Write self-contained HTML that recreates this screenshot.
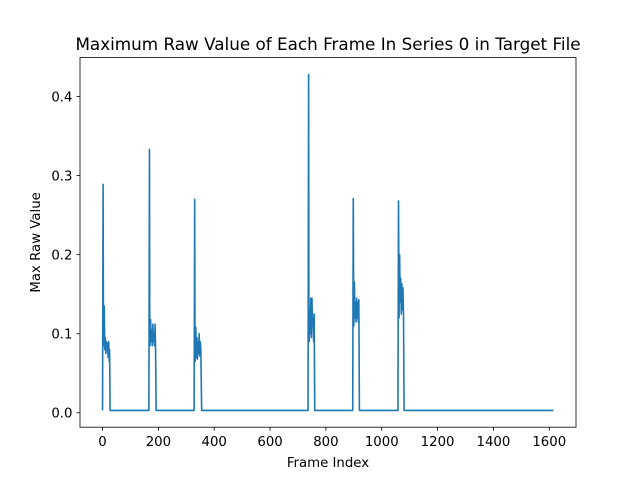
<!DOCTYPE html>
<html><head><meta charset="utf-8"><style>
html,body{margin:0;padding:0;background:#fff;}
svg{display:block;font-family:"DejaVu Sans","Liberation Sans",sans-serif;}
</style></head><body>
<svg id="chart" width="640" height="480" viewBox="0 0 640 480" xmlns="http://www.w3.org/2000/svg">
<rect width="640" height="480" fill="#fff"/>
<text x="328" y="50" font-size="16.8" text-anchor="middle">Maximum Raw Value of Each Frame In Series 0 in Target File</text>
<g id="xticks"></g>
<g id="yticks"></g>
<path id="series" fill="none" stroke="#1f77b4" stroke-width="1.6" stroke-linejoin="round"/>
<rect x="80" y="57.6" width="496" height="369.6" fill="none" stroke="#000" stroke-width="0.8"/>
<text x="328" y="467" font-size="13.3" text-anchor="middle">Frame Index</text>
<text transform="translate(40,242.4) rotate(-90)" font-size="13.3" text-anchor="middle">Max Raw Value</text>
</svg>
<script>
const frames = [0,2,3,4,6,8,10,12,14,16,18,20,22,24,25,26,27,28,
  166,168,169,170,172,174,176,178,180,182,184,186,188,190,192,
  328,330,331,332,334,336,338,340,342,344,346,348,350,352,355,
  736,738,739,740,742,744,746,748,750,752,754,756,758,760,
  896,898,899,900,902,904,906,908,910,912,914,916,918,920,
  1058,1060,1061,1062,1064,1066,1068,1070,1072,1074,1076,1078,1080,
  1615];
const values = [0.003,0.289,0.14,0.085,0.135,0.08,0.095,0.075,0.09,0.08,0.088,0.07,0.09,0.065,0.08,0.055,0.003,0.003,
  0.003,0.333,0.12,0.085,0.118,0.09,0.105,0.085,0.112,0.09,0.1,0.085,0.112,0.08,0.003,
  0.003,0.27,0.1,0.065,0.108,0.07,0.095,0.068,0.09,0.075,0.1,0.072,0.09,0.08,0.003,
  0.003,0.428,0.15,0.09,0.12,0.1,0.145,0.095,0.145,0.11,0.12,0.09,0.125,0.003,
  0.003,0.271,0.17,0.11,0.165,0.12,0.14,0.115,0.145,0.12,0.14,0.115,0.143,0.003,
  0.003,0.268,0.2,0.12,0.2,0.14,0.17,0.125,0.163,0.13,0.158,0.12,0.003,
  0.003];
const xTickVals = [0,200,400,600,800,1000,1200,1400,1600];
const yTickVals = [0.0,0.1,0.2,0.3,0.4];
const yTickLabels = ["0.0","0.1","0.2","0.3","0.4"];

const xmin=-80.75,xmax=1695.75,ymin=-0.01825,ymax=0.44925;
function X(v){return 80+(v-xmin)/(xmax-xmin)*496;}
function Y(v){return 427.2-(v-ymin)/(ymax-ymin)*369.6;}
const NS="http://www.w3.org/2000/svg";
let d="";
for(let i=0;i<frames.length;i++){d+=(i?"L":"M")+X(frames[i]).toFixed(2)+","+Y(values[i]).toFixed(2);}
document.getElementById("series").setAttribute("d",d);
const xg=document.getElementById("xticks");
xTickVals.forEach(v=>{
  const l=document.createElementNS(NS,"line");
  
  
  l.setAttribute("x1",X(v));l.setAttribute("x2",X(v));l.setAttribute("y1",427.2);l.setAttribute("y2",430.7);
  l.setAttribute("stroke","#000");l.setAttribute("stroke-width","0.8");xg.appendChild(l);
  const t=document.createElementNS(NS,"text");
  
  
  t.setAttribute("x",X(v));t.setAttribute("y",446);t.setAttribute("font-size","13.3");t.setAttribute("text-anchor","middle");
  t.textContent=String(v);xg.appendChild(t);
});
const yg=document.getElementById("yticks");
yTickVals.forEach((v,i)=>{
  const l=document.createElementNS(NS,"line");
  
  
  l.setAttribute("x1",76.5);l.setAttribute("x2",80);l.setAttribute("y1",Y(v));l.setAttribute("y2",Y(v));
  l.setAttribute("stroke","#000");l.setAttribute("stroke-width","0.8");yg.appendChild(l);
  const t=document.createElementNS(NS,"text");
  
  
  t.setAttribute("x",72.5);t.setAttribute("y",Y(v)+4.8);t.setAttribute("font-size","13.3");t.setAttribute("text-anchor","end");
  t.textContent=yTickLabels[i];yg.appendChild(t);
});
</script>
</body></html>
